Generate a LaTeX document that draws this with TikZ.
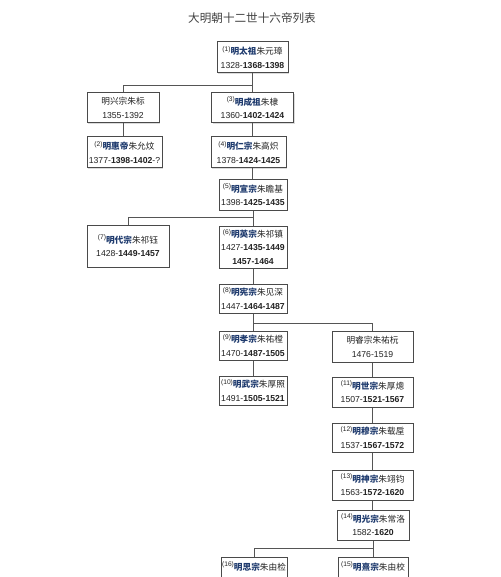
\documentclass[tikz,border=0pt]{standalone}
\usepackage{fontspec}
\setmainfont{Liberation Sans}
\newfontfamily\cjk{Noto Sans CJK SC}
\usetikzlibrary{positioning, shadows}
\definecolor{mingblue}{HTML}{1F3B6E}
\definecolor{mingline}{HTML}{555555}
\definecolor{minggray}{HTML}{4A4A4A}
\definecolor{mingtext}{HTML}{222222}

% (n) temple name + personal name
\newcommand{\mingdi}[3]{\raisebox{2.4pt}{\fontsize{5}{5}\selectfont(#1)}%
  {\cjk\color{mingblue}\bfseries #2}{\cjk #3}}

\begin{document}
\begin{tikzpicture}[x=0.75pt, y=-0.75pt,
  emperor/.style 2 args={draw=minggray, line width=0.75pt, fill=white,
    align=center, inner sep=0pt, text=mingtext,
    font=\fontsize{6.5}{10.3}\selectfont,
    minimum width=#1*0.75pt, minimum height=#2*0.75pt,
    drop shadow={shadow xshift=0.8pt, shadow yshift=-0.8pt,
      fill=black!40, opacity=0.35}},
  link/.style={draw=mingline, line width=0.75pt}]
  \useasboundingbox (0,0) rectangle (500,577);
  \clip (0,0) rectangle (500,577);

  % Title
  \node[text=black!75, font=\cjk\fontsize{8.7}{10}\selectfont] (title) at (252,18)
    {大明朝十二世十六帝列表};

  % Emperors
  \node[emperor={71}{31}] (b1) at (252.5,57.5)
    {\mingdi{1}{明太祖}{朱元璋}\\1328-\textbf{1368-1398}};
  \node[emperor={72}{30}] (xing) at (123,108)
    {{\cjk 明兴宗朱标}\\1355-1392};
  \node[emperor={82}{30}] (b3) at (252.5,108)
    {\mingdi{3}{明成祖}{朱棣}\\1360-\textbf{1402-1424}};
  \node[emperor={75}{31}] (b2) at (124.5,152.5)
    {\mingdi{2}{明惠帝}{朱允炆}\\1377-\textbf{1398-1402}-?};
  \node[emperor={75}{31}] (b4) at (248.5,152.5)
    {\mingdi{4}{明仁宗}{朱高炽}\\1378-\textbf{1424-1425}};
  \node[emperor={68}{30}] (b5) at (253,195)
    {\mingdi{5}{明宣宗}{朱瞻基}\\1398-\textbf{1425-1435}};
  \node[emperor={82}{42}] (b7) at (128,246)
    {\mingdi{7}{明代宗}{朱祁钰}\\1428-\textbf{1449-1457}};
  \node[emperor={68}{42}] (b6) at (253,247)
    {\mingdi{6}{明英宗}{朱祁镇}\\1427-\textbf{1435-1449}\\\textbf{1457-1464}};
  \node[emperor={68}{29}] (b8) at (253,298.5)
    {\mingdi{8}{明宪宗}{朱见深}\\1447-\textbf{1464-1487}};
  \node[emperor={68}{29}] (b9) at (253,345.5)
    {\mingdi{9}{明孝宗}{朱祐樘}\\1470-\textbf{1487-1505}};
  \node[emperor={81}{31}] (rui) at (372.5,346.5)
    {{\cjk 明睿宗朱祐杬}\\1476-1519};
  \node[emperor={68}{29}] (b10) at (253,390.5)
    {\mingdi{10}{明武宗}{朱厚照}\\1491-\textbf{1505-1521}};
  \node[emperor={81}{30}] (b11) at (372.5,392)
    {\mingdi{11}{明世宗}{朱厚熜}\\1507-\textbf{1521-1567}};
  \node[emperor={81}{29}] (b12) at (372.5,437.5)
    {\mingdi{12}{明穆宗}{朱载垕}\\1537-\textbf{1567-1572}};
  \node[emperor={81}{30}] (b13) at (372.5,485)
    {\mingdi{13}{明神宗}{朱翊钧}\\1563-\textbf{1572-1620}};
  \node[emperor={72}{30}] (b14) at (373,525)
    {\mingdi{14}{明光宗}{朱常洛}\\1582-\textbf{1620}};
  \node[emperor={66}{32}] (b16) at (254,573)
    {\mingdi{16}{明思宗}{朱由检}\\\mbox{}};
  \node[emperor={70}{32}] (b15) at (373,573)
    {\mingdi{15}{明熹宗}{朱由校}\\\mbox{}};

  % Succession lines
  \draw[link] (b1.south) -- ++(0,12) -| (xing.north);
  \draw[link] (b1.south) -- (b3.north);
  \draw[link] (xing.south) -- (xing.south |- b2.north);
  \draw[link] (b3.south) -- (b3.south |- b4.north);
  \draw[link] (b3.south |- b4.south) -- (b3.south |- b5.north);
  \draw[link] (b5.south) -- ++(0,7) -| (b7.north);
  \draw[link] (b5.south) -- (b6.north);
  \draw[link] (b6.south) -- (b8.north);
  \draw[link] (b8.south) -- ++(0,10) -| (rui.north);
  \draw[link] (b8.south) -- (b9.north);
  \draw[link] (b9.south) -- (b10.north);
  \foreach \a/\b in {rui/b11, b11/b12, b12/b13, b13/b14, b14/b15}
    \draw[link] (\a.south) -- (\a.south |- \b.north);
  \draw[link] (b14.south) -- ++(0,8) -| (b16.north);
\end{tikzpicture}
\end{document}
